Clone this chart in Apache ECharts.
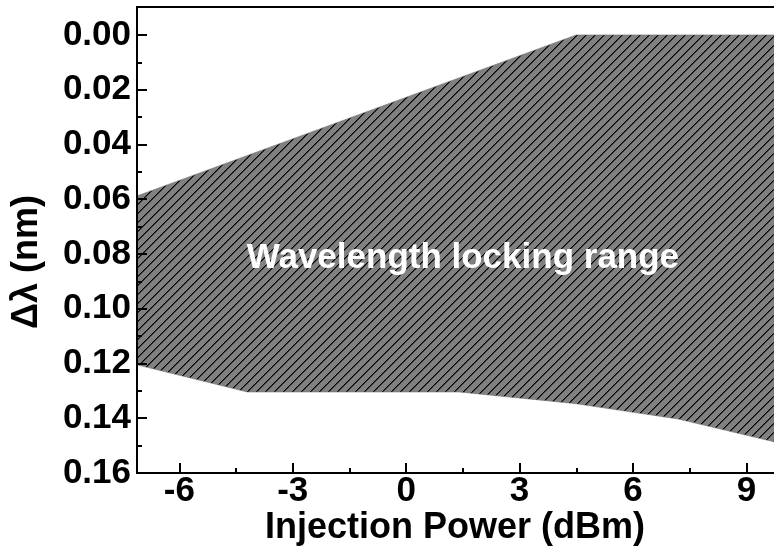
<!DOCTYPE html>
<html>
<head>
<meta charset="utf-8">
<script src="https://cdn.jsdelivr.net/npm/echarts@6/dist/echarts.min.js"></script>
<style>
  html, body { margin: 0; padding: 0; background: #fff; }
  #chart { width: 774px; height: 548px; }
</style>
</head>
<body>
<div id="chart"></div>
<script>
// Axis extents: injection power (dBm) and wavelength detuning Δλ (nm)
const powerRange = [-7.12, 9.73];
const shiftRange = [-0.0102, 0.16];

// Tick values and their labels
const powerTicks = [-6, -3, 0, 3, 6, 9];
const powerLabels = ['-6', '-3', '0', '3', '6', '9'];
const powerMinorTicks = [-4.5, -1.5, 1.5, 4.5, 7.5];
const shiftTicks = [0, 0.02, 0.04, 0.06, 0.08, 0.10, 0.12, 0.14, 0.16];
const shiftLabels = ['0.00', '0.02', '0.04', '0.06', '0.08', '0.10', '0.12', '0.14', '0.16'];
const shiftMinorTicks = [0.01, 0.03, 0.05, 0.07, 0.09, 0.11, 0.13, 0.15];

// Upper edge of the locking range (smallest detuning)
const upperPower = [-7.12, 4.5, 9.73];
const upperShift = [0.0588, 0.0, 0.0];

// Lower edge of the locking range (largest detuning)
const lowerPower = [-7.12, -4.2, 1.4, 4.5, 7.2, 9.73];
const lowerShift = [0.1205, 0.1304, 0.1304, 0.1347, 0.1403, 0.1486];

// Region caption and where it sits (in data units)
const regionName = 'Wavelength locking range';
const regionNameAt = [1.5, 0.0815];

// Axis titles
const xTitle = 'Injection Power (dBm)';
const yTitle = 'Δλ (nm)';

const FONT = "'Liberation Sans', Arial, Helvetica, sans-serif";

// Grey tile with a crisp diagonal stroke, repeated as the hatch fill
function hatchTile() {
  const s = 9;
  const c = document.createElement('canvas');
  c.width = s; c.height = s;
  const g = c.getContext('2d');
  g.fillStyle = '#808080';
  g.fillRect(0, 0, s, s);
  for (let y = 0; y < s; y++) {
    const x = s - 1 - y;
    g.fillStyle = '#000';
    g.fillRect(x, y, 1, 1);
    g.fillStyle = '#3a3a3a';
    g.fillRect((x + 1) % s, y, 1, 1);
  }
  return c;
}
const hatch = { image: hatchTile(), repeat: 'repeat' };

function pickLabel(values, labels) {
  return function (v) {
    for (let i = 0; i < values.length; i++) {
      if (Math.abs(values[i] - v) < 1e-6) return labels[i];
    }
    return '';
  };
}

const axisLine = { show: true, onZero: false, lineStyle: { color: '#000', width: 2 } };
const tickFont = { fontFamily: FONT, fontWeight: 'bold', fontSize: 35, color: '#000' };

const chart = echarts.init(document.getElementById('chart'), null, { renderer: 'canvas' });

chart.setOption({
  animation: false,
  backgroundColor: '#fff',
  grid: { left: 137, top: 7, right: 0, bottom: 75, containLabel: false, outerBoundsMode: 'none' },
  xAxis: [
    {
      type: 'value', position: 'bottom', min: powerRange[0], max: powerRange[1], z: 5,
      axisLine: axisLine,
      axisTick: { show: true, inside: true, length: 10, customValues: powerTicks,
                  lineStyle: { color: '#000', width: 2 } },
      axisLabel: Object.assign({ customValues: powerTicks, margin: 1, lineHeight: 34,
                  formatter: pickLabel(powerTicks, powerLabels) }, tickFont),
      splitLine: { show: false }
    },
    {
      type: 'value', position: 'bottom', min: powerRange[0], max: powerRange[1], z: 5,
      axisLine: { show: false, onZero: false },
      axisTick: { show: true, inside: true, length: 5, customValues: powerMinorTicks,
                  lineStyle: { color: '#000', width: 2 } },
      axisLabel: { show: false },
      splitLine: { show: false }
    },
    {
      type: 'value', position: 'top', min: powerRange[0], max: powerRange[1], z: 5,
      axisLine: axisLine,
      axisTick: { show: false },
      axisLabel: { show: false },
      splitLine: { show: false }
    }
  ],
  yAxis: [
    {
      type: 'value', position: 'left', inverse: true, min: shiftRange[0], max: shiftRange[1], z: 5,
      axisLine: axisLine,
      axisTick: { show: true, inside: true, length: 10, customValues: shiftTicks,
                  lineStyle: { color: '#000', width: 2 } },
      axisLabel: Object.assign({ customValues: shiftTicks, margin: 6,
                  formatter: pickLabel(shiftTicks, shiftLabels) }, tickFont),
      splitLine: { show: false }
    },
    {
      type: 'value', position: 'left', inverse: true, min: shiftRange[0], max: shiftRange[1], z: 5,
      axisLine: { show: false, onZero: false },
      axisTick: { show: true, inside: true, length: 5, customValues: shiftMinorTicks,
                  lineStyle: { color: '#000', width: 2 } },
      axisLabel: { show: false },
      splitLine: { show: false }
    }
  ],
  graphic: [
    {
      type: 'text', x: 27, y: 262, rotation: Math.PI / 2,
      style: { text: yTitle, fill: '#000', align: 'center', verticalAlign: 'middle',
               font: "bold 36px " + FONT }
    },
    {
      type: 'text', x: 455, y: 528,
      style: { text: xTitle, fill: '#000', align: 'center', verticalAlign: 'middle',
               font: "bold 36px " + FONT }
    }
  ],
  series: [
    {
      type: 'custom',
      xAxisIndex: 0, yAxisIndex: 0,
      clip: true,
      silent: true,
      data: [[powerRange[0], shiftRange[0]]],
      renderItem: function (params, api) {
        const pts = [];
        for (let i = 0; i < upperPower.length; i++) pts.push(api.coord([upperPower[i], upperShift[i]]));
        for (let i = lowerPower.length - 1; i >= 0; i--) pts.push(api.coord([lowerPower[i], lowerShift[i]]));
        const at = api.coord(regionNameAt);
        return {
          type: 'group',
          children: [
            { type: 'polygon', shape: { points: pts },
              style: { fill: hatch, stroke: '#707070', lineWidth: 0.6 } },
            { type: 'text', x: at[0], y: at[1],
              style: { text: regionName, fill: '#fff', align: 'center', verticalAlign: 'middle',
                       font: "bold 35px " + FONT } }
          ]
        };
      }
    }
  ]
});
</script>
</body>
</html>
